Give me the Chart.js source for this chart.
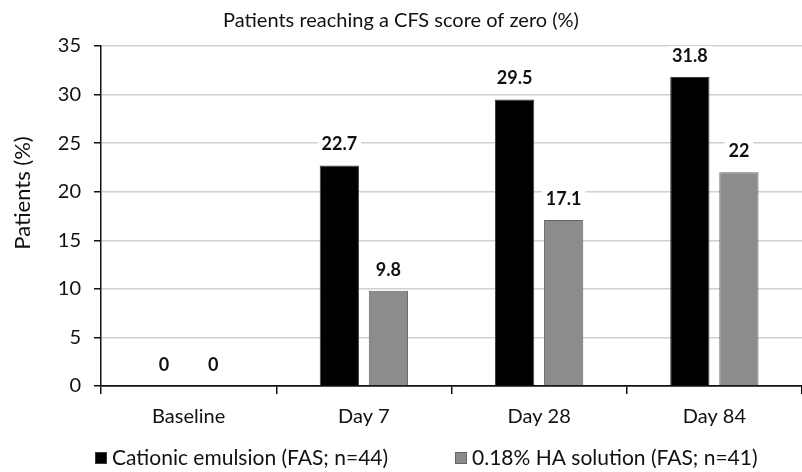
<!DOCTYPE html>
<html>
<head>
<meta charset="utf-8">
<script src="https://cdn.jsdelivr.net/npm/chart.js@4.4.1/dist/chart.umd.min.js"></script>
<style>
  html, body { margin: 0; padding: 0; background: #fff; }
  #wrap { width: 802px; height: 472px; }
</style>
</head>
<body>
<div id="wrap"><canvas id="chart" width="802" height="472"></canvas></div>
<script>
// Patients reaching a CFS score of zero, by visit and treatment group
const categories = ['Baseline', 'Day 7', 'Day 28', 'Day 84'];
const cationicEmulsion = [0, 22.7, 29.5, 31.8];
const haSolution = [0, 9.8, 17.1, 22];
const seriesNames = ['Cationic emulsion (FAS; n=44)', '0.18% HA solution (FAS; n=41)'];
const yAxisTitle = 'Patients (%)';
const yMin = 0, yMax = 35, yStep = 5;

const FONT = 'Lato, "Open Sans", sans-serif';
const BLACK = '#000000';
const GREY = '#8c8c8c';

// Value labels above each bar, on a white box that hides the gridline
const valueLabels = {
  id: 'valueLabels',
  afterDatasetsDraw(chart) {
    const ctx = chart.ctx;
    ctx.save();
    ctx.font = 'bold 18px ' + FONT;
    ctx.textAlign = 'center';
    ctx.textBaseline = 'middle';
    chart.data.datasets.forEach((ds, di) => {
      const meta = chart.getDatasetMeta(di);
      meta.data.forEach((bar, i) => {
        const text = String(ds.data[i]);
        const y = bar.y - 21;
        const w = ctx.measureText(text).width + 8;
        ctx.fillStyle = '#fff';
        ctx.fillRect(bar.x - w / 2, y - 10, w, 20);
        ctx.fillStyle = '#111';
        ctx.fillText(text, bar.x, y);
      });
    });
    ctx.restore();
  }
};

// Rotated y-axis title and the legend row under the axis
const sideTexts = {
  id: 'sideTexts',
  afterDraw(chart) {
    const ctx = chart.ctx;
    ctx.save();
    ctx.fillStyle = '#111';
    ctx.font = '22px ' + FONT;
    ctx.textAlign = 'center';
    ctx.textBaseline = 'middle';
    ctx.translate(23, 193);
    ctx.rotate(-Math.PI / 2);
    ctx.fillText(yAxisTitle, 0, 0);
    ctx.restore();

    const itemX = [95, 455];
    const y = 458;
    ctx.save();
    ctx.font = '21px ' + FONT;
    ctx.textBaseline = 'middle';
    ctx.textAlign = 'left';
    chart.data.datasets.forEach((ds, di) => {
      const x = itemX[di];
      ctx.fillStyle = ds.backgroundColor;
      ctx.fillRect(x, y - 6, 12, 12);
      ctx.strokeStyle = ds.borderColor;
      ctx.lineWidth = 1;
      ctx.strokeRect(x + 0.5, y - 5.5, 11, 11);
      ctx.fillStyle = '#111';
      ctx.fillText(ds.label, x + 17, y);
    });
    ctx.restore();
  }
};

new Chart(document.getElementById('chart'), {
  type: 'bar',
  data: {
    labels: categories,
    datasets: [
      {
        label: seriesNames[0],
        data: cationicEmulsion,
        backgroundColor: BLACK,
        borderColor: '#3a3a3a',
        borderWidth: 1,
        barPercentage: 0.8,
        categoryPercentage: 0.56
      },
      {
        label: seriesNames[1],
        data: haSolution,
        backgroundColor: GREY,
        borderColor: '#666666',
        borderWidth: 1,
        barPercentage: 0.8,
        categoryPercentage: 0.56
      }
    ]
  },
  options: {
    responsive: false,
    animation: false,
    layout: { padding: { left: 0, right: 0, top: 0, bottom: 40 } },
    plugins: {
      legend: { display: false },
      tooltip: { enabled: false },
      title: {
        display: true,
        text: 'Patients reaching a CFS score of zero (%)',
        color: '#111',
        font: { family: FONT, size: 20, weight: 'normal' },
        padding: { top: 9, bottom: 13 }
      }
    },
    scales: {
      x: {
        afterFit(scale) { scale.height = 46; },
        border: { display: true, color: '#111', width: 1.5 },
        grid: {
          display: true,
          drawOnChartArea: false,
          drawTicks: true,
          tickLength: 8,
          tickColor: '#111',
          lineWidth: 1.5
        },
        ticks: {
          color: '#111',
          padding: 11,
          font: { family: FONT, size: 20 }
        }
      },
      y: {
        min: yMin,
        max: yMax,
        afterFit(scale) { scale.width = 101; },
        border: { display: true, color: '#111', width: 1.5 },
        grid: {
          color: (c) => (c.tick && c.tick.value === 0 ? '#111' : '#d0d0d0'),
          lineWidth: 1.5,
          drawTicks: true,
          tickLength: 7,
          tickColor: '#111'
        },
        ticks: {
          stepSize: yStep,
          color: '#111',
          padding: 13,
          font: { family: FONT, size: 20 }
        }
      }
    }
  },
  plugins: [valueLabels, sideTexts]
});
</script>
</body>
</html>
